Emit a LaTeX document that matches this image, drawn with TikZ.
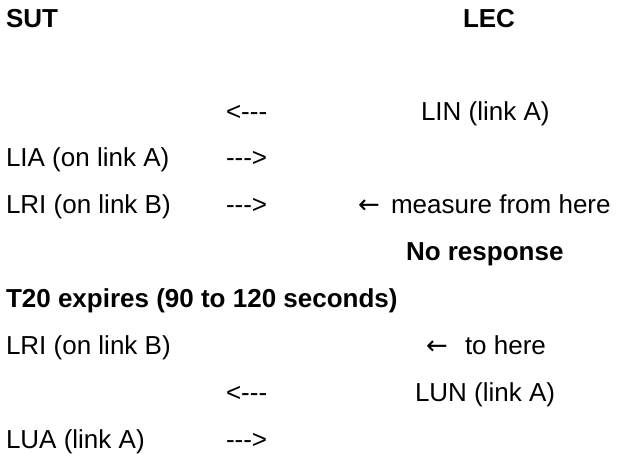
\documentclass[tikz,border=0pt]{standalone}
\usepackage{fontspec}
\setmainfont{Liberation Sans}
\newfontfamily\arrowfont{DejaVu Sans}
\begin{document}
\begin{tikzpicture}[x=1pt,y=1pt,
  txt/.style={anchor=base west,inner sep=0pt,outer sep=0pt,font=\fontsize{26}{30}\selectfont},
  btxt/.style={txt,font=\fontsize{26}{30}\selectfont\bfseries}]
\useasboundingbox (0,0) rectangle (618,453);
% baselines measured from top: 28,121,167,213,260,307,354,401,448
\node[btxt] (sut) at (6,453-28) {SUT};
\node[btxt] (lec) at (463,453-28) {LEC};
\node[txt] (a1) at (226,453-121) {<-{}-{}-};
\node[txt] (lin) at (421,453-121) {LIN (link A)};
\node[txt] (lia) at (6,453-167) {LIA (on link A)};
\node[txt] (a2) at (226,453-167) {-{}-{}->};
\node[txt] (lri1) at (6,453-213) {LRI (on link B)};
\node[txt] (a3) at (226,453-213) {-{}-{}->};
\node[txt] (marr) at (358,453-213) {\arrowfont ←};
\node[txt] (meas) at (391,453-213) {measure from here};
\node[btxt] (nores) at (406,453-260) {No response};
\node[btxt] (t20) at (6,453-307) {T20 expires (90 to 120 seconds)};
\node[txt] (lri2) at (6,453-354) {LRI (on link B)};
\node[txt] (toarr) at (426,453-354) {\arrowfont ←};
\node[txt] (tohere) at (465,453-354) {to here};
\node[txt] (a4) at (226,453-401) {<-{}-{}-};
\node[txt] (lun) at (415,453-401) {LUN (link A)};
\node[txt] (lua) at (6,453-448) {LUA (link A)};
\node[txt] (a5) at (226,453-448) {-{}-{}->};
\end{tikzpicture}
\end{document}
